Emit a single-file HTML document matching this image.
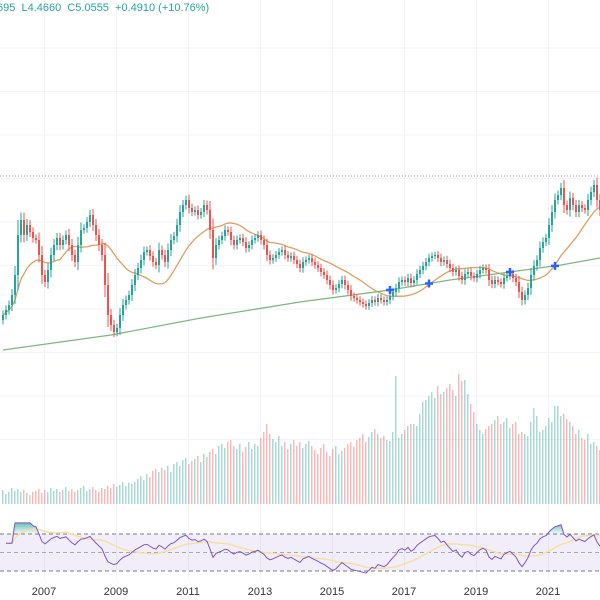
<!DOCTYPE html>
<html><head><meta charset="utf-8"><style>
html,body{margin:0;padding:0;background:#fff;}
svg{display:block;font-family:"Liberation Sans",sans-serif;}
</style></head><body>
<svg id="c" width="600" height="600" viewBox="0 0 600 600">
<defs>
<linearGradient id="og" x1="0" y1="0" x2="0" y2="1"><stop offset="0" stop-color="#26a69a" stop-opacity="0.7"/><stop offset="1" stop-color="#26a69a" stop-opacity="0.05"/></linearGradient>
</defs>
<g id="grid"></g>
<line x1="0" x2="600" y1="176" y2="176" stroke="#9a9a9a" stroke-width="1" stroke-dasharray="1,2"/>
<rect x="0" y="534" width="600" height="37" fill="#7e57c2" fill-opacity="0.1"/>
<line x1="0" x2="600" y1="534" y2="534" stroke="#787b86" stroke-dasharray="4,3"/>
<line x1="0" x2="600" y1="552.5" y2="552.5" stroke="#787b86" stroke-opacity="0.6" stroke-dasharray="4,3"/>
<line x1="0" x2="600" y1="571" y2="571" stroke="#787b86" stroke-dasharray="4,3"/>
<g id="vol"></g>
<g id="ma"></g>
<g id="candles"></g>
<g id="marks"></g>
<g id="rsi"></g>
<g id="xaxis"></g>
<text x="-3" y="11" font-size="11" fill="#26a69a">695 &#160;L4.4660 &#160;C5.0555 &#160;+0.4910 (+10.76%)</text>
</svg>
<script>
const closes=[285,290,295,305,325,365,380,365,375,368,362,360,345,325,318,330,345,355,362,355,360,365,355,345,338,355,370,372,378,385,375,365,355,345,315,285,275,268,272,285,295,300,305,315,325,332,340,348,350,344,338,335,350,345,338,350,360,364,375,388,395,400,392,388,390,385,388,395,390,370,342,355,360,364,370,368,360,355,360,362,358,352,355,360,362,365,360,355,345,340,342,345,348,350,345,342,344,340,336,332,338,340,342,338,335,332,328,325,320,315,310,312,316,320,315,310,304,302,300,298,296,294,297,300,298,302,300,298,300,304,308,312,318,320,318,322,317,320,326,330,334,338,342,344,345,342,338,340,336,332,328,330,324,320,326,328,324,322,326,330,332,330,320,316,320,318,316,322,324,326,322,318,308,300,305,312,325,334,340,352,358,362,375,388,400,405,412,395,390,402,395,388,395,392,390,400,408,415,400,390];
const volumes=[14,10,12,16,13,15,12,14,11,9,12,13,15,11,14,12,16,13,15,12,14,17,13,15,12,14,16,18,13,15,17,14,12,16,15,18,16,20,17,19,22,18,21,20,22,25,28,24,30,27,33,35,32,36,34,38,32,40,42,38,44,46,40,43,45,48,42,50,47,52,55,50,58,60,56,62,64,58,55,60,52,57,62,55,60,58,66,72,80,70,65,62,68,58,62,55,60,64,58,62,56,60,63,58,54,50,56,60,52,48,55,58,50,53,56,60,62,57,64,66,70,62,67,72,75,70,66,68,64,63,72,128,66,70,74,78,80,80,78,90,102,104,108,112,106,118,110,112,116,120,114,108,130,123,124,110,100,92,80,74,70,75,78,80,84,88,80,82,86,76,80,82,70,72,70,68,82,96,88,72,74,78,86,82,98,98,88,90,85,82,78,70,74,66,64,70,60,62,58,54];
const longMaIdx=[0,36,66,99,129,149,169,186,199];
const longMaVal=[250,265,282,298,310,320,328,335,342];
const crossIdx=[129,142,169,184];
const years=["2007","2009","2011","2013","2015","2017","2019","2021"];
const yearIdx=[14,38,62,86,110,134,158,182];

const NS="http://www.w3.org/2000/svg";
function mk(t,a,p){const e=document.createElementNS(NS,t);for(const k in a)e.setAttribute(k,a[k]);p.appendChild(e);return e;}
const xS=i=>2+3*i;
const yS=v=>600-v;
const vS=v=>504-v;
const rS=r=>552.5-(r-50)*0.925;

const grid=document.getElementById('grid');
yearIdx.forEach(i=>{const l=mk('line',{x1:xS(i)+0.5,x2:xS(i)+0.5,y1:0,y2:580,stroke:'#f0f3fa'},grid);

});
[48,91.5,135,178.5,222,265.5,309,352.5,396,439.5].forEach(y=>{const l=mk('line',{x1:0,x2:600,y1:y,y2:y,stroke:'#f0f3fa'},grid);

});

const cg=document.getElementById('candles'),vg=document.getElementById('vol');
for(let i=0;i<closes.length;i++){
  const c=closes[i],o=i>0?closes[i-1]:closes[i]-5;
  const up=c>=o,col=up?'#26a69a':'#ef5350';
  const hi=Math.max(o,c)+3+Math.abs(c-o)*0.3,lo=Math.min(o,c)-3-Math.abs(c-o)*0.3;
  const x=xS(i);
  const w=mk('line',{x1:x+1,x2:x+1,y1:yS(hi),y2:yS(lo),stroke:col,'stroke-width':1},cg);
  
  
  const b=mk('rect',{x:x,y:yS(Math.max(o,c)),width:2,height:Math.max(1,Math.abs(c-o)),fill:col},cg);
  
  
  const vb=mk('rect',{x:x,y:vS(volumes[i]),width:1.5,height:volumes[i],fill:up?'#26a69a':'#ef5350','fill-opacity':0.4},vg);
  
  
}

const mg=document.getElementById('ma');
let pts=[];
for(let i=0;i<closes.length;i++){const s=Math.max(0,i-19);let sum=0;for(let j=s;j<=i;j++)sum+=closes[j];pts.push(xS(i)+1+','+yS(sum/(i-s+1)));}
const om=mk('polyline',{points:pts.join(' '),fill:'none',stroke:'#e0a060','stroke-width':1.3},mg);


function longAt(i){for(let k=0;k<longMaIdx.length-1;k++){if(i<=longMaIdx[k+1]){const t=(i-longMaIdx[k])/(longMaIdx[k+1]-longMaIdx[k]);return longMaVal[k]+t*(longMaVal[k+1]-longMaVal[k]);}}return longMaVal[longMaVal.length-1];}
const lp=longMaIdx.map((i,k)=>xS(i)+1+','+yS(longMaVal[k])).join(' ');
const gm=mk('polyline',{points:lp,fill:'none',stroke:'#7fb87f','stroke-width':1.3},mg);



const mkg=document.getElementById('marks');
crossIdx.forEach(i=>{const x=xS(i)+1,y=yS(longAt(i));
  const p=mk('path',{d:`M${x-4},${y}H${x+4}M${x},${y-4}V${y+4}`,stroke:'#2962ff','stroke-width':2.5},mkg);
  
  });

const rg=document.getElementById('rsi');
const rsi=[];let ag=0,al=0;const n=18;
for(let i=1;i<closes.length;i++){const d=closes[i]-closes[i-1],g=Math.max(d,0),l=Math.max(-d,0);
  if(i<=n){ag=(ag*(i-1)+g)/i;al=(al*(i-1)+l)/i;}else{ag=(ag*(n-1)+g)/n;al=(al*(n-1)+l)/n;}
  const r=al===0?100:100-100/(1+ag/al);rsi.push([i,Math.min(82,Math.max(25,i<4?60:r))]);}
const sig=rsi.map((p,k)=>{const s=Math.max(0,k-17);let sum=0;for(let j=s;j<=k;j++)sum+=rsi[j][1];return [p[0],sum/(k-s+1)];});
const fillPts=rsi.map(p=>xS(p[0])+1+','+Math.min(rS(p[1]),rS(70))).join(' ');
const fl=mk('polygon',{points:`${xS(rsi[0][0])+1},${rS(70)} `+fillPts+` ${xS(rsi[rsi.length-1][0])+1},${rS(70)}`,fill:'url(#og)'},rg);


const sl=mk('polyline',{points:sig.map(p=>xS(p[0])+1+','+rS(p[1])).join(' '),fill:'none',stroke:'#f5e0a0','stroke-width':1.5},rg);


const rl=mk('polyline',{points:rsi.map(p=>xS(p[0])+1+','+rS(p[1])).join(' '),fill:'none',stroke:'#7e57c2','stroke-width':1},rg);



const xg=document.getElementById('xaxis');
years.forEach((y,k)=>{const t=mk('text',{x:xS(yearIdx[k]),y:595,'font-size':11,'text-anchor':'middle',fill:'#333'},xg);t.textContent=y;
  
  });
</script>
</body></html>
